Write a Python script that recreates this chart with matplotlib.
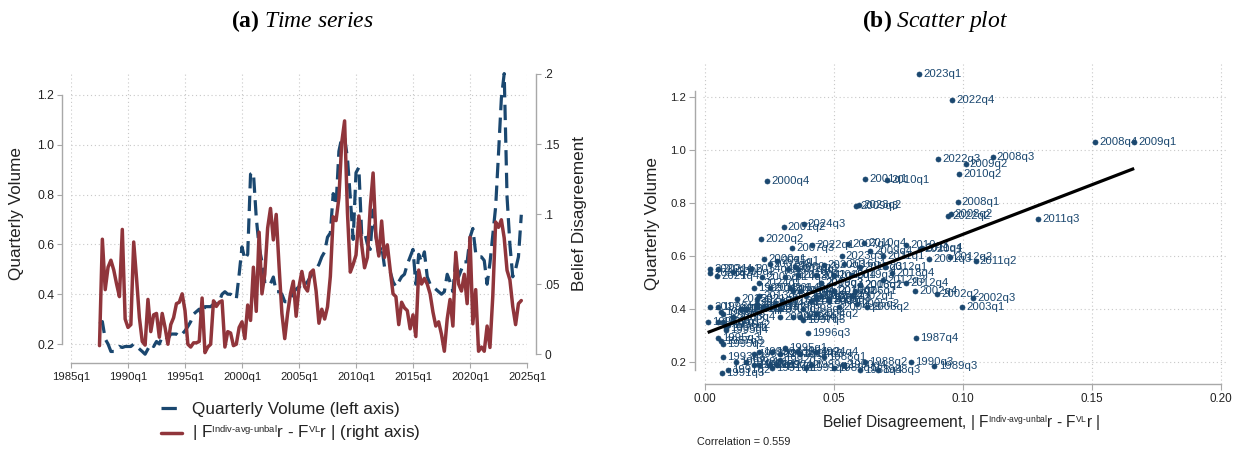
import numpy as np
import matplotlib
matplotlib.use("Agg")
import matplotlib.pyplot as plt

try:
    import matplotlib._mathtext as _mt
    _mt.SHRINK_FACTOR = 0.55
except Exception:
    pass

# ---------------- data ----------------
start_year, start_q = 1987, 3
volume = [
    0.28, 0.29,
    0.22, 0.20, 0.17, 0.17,
    0.18, 0.19, 0.186, 0.19,
    0.19, 0.19, 0.20, 0.19,
    0.18, 0.17, 0.159, 0.18,
    0.20, 0.19, 0.21, 0.20,
    0.23, 0.23, 0.22, 0.24,
    0.24, 0.24, 0.23, 0.24,
    0.253, 0.27, 0.29, 0.32,
    0.33, 0.34, 0.311, 0.35,
    0.35, 0.35, 0.36, 0.37,
    0.37, 0.40, 0.41, 0.40,
    0.40, 0.39, 0.38, 0.48,
    0.59, 0.54, 0.56, 0.882,
    0.889, 0.708, 0.59, 0.53,
    0.45, 0.457, 0.442, 0.469,
    0.41, 0.41, 0.40, 0.37,
    0.37, 0.38, 0.41, 0.42,
    0.43, 0.42, 0.44, 0.45,
    0.47, 0.49, 0.50, 0.52,
    0.55, 0.57, 0.629, 0.646,
    0.804, 0.757, 0.974, 1.029,
    1.028, 0.947, 0.788, 0.62,
    0.888, 0.909, 0.64, 0.65,
    0.60, 0.58, 0.738, 0.632,
    0.56, 0.595, 0.51, 0.50,
    0.49, 0.45, 0.43, 0.45,
    0.47, 0.48, 0.52, 0.55,
    0.58, 0.44, 0.56, 0.53,
    0.57, 0.47, 0.44, 0.43,
    0.42, 0.41, 0.40, 0.41,
    0.48, 0.45, 0.41, 0.538,
    0.47, 0.50, 0.53, 0.53,
    0.628, 0.664, 0.565, 0.55,
    0.55, 0.535, 0.44, 0.525,
    0.640, 0.751, 0.964, 1.186,
    1.286, 0.791, 0.60, 0.47,
    0.50, 0.55, 0.719,
]
disagreement = [
    0.006, 0.082,
    0.046, 0.062, 0.067, 0.060,
    0.050, 0.041, 0.089, 0.025,
    0.019, 0.021, 0.080, 0.054,
    0.026, 0.009, 0.0064, 0.039,
    0.016, 0.028, 0.029, 0.012,
    0.029, 0.019, 0.007, 0.021,
    0.026, 0.036, 0.037, 0.043,
    0.031, 0.007, 0.005, 0.008,
    0.008, 0.009, 0.040, 0.001,
    0.005, 0.007, 0.038, 0.034,
    0.037, 0.038, 0.005, 0.016,
    0.015, 0.006, 0.007, 0.019,
    0.023, 0.011, 0.035, 0.024,
    0.062, 0.0305, 0.087, 0.043,
    0.057, 0.090, 0.104, 0.0815,
    0.0997, 0.063, 0.029, 0.011,
    0.029, 0.043, 0.052, 0.027,
    0.048, 0.059, 0.048, 0.045,
    0.058, 0.060, 0.045, 0.022,
    0.032, 0.025, 0.0337, 0.0555,
    0.098, 0.0953, 0.1116, 0.1512,
    0.1665, 0.1011, 0.0585, 0.064,
    0.0707, 0.0986, 0.078, 0.0616,
    0.069, 0.105, 0.1293, 0.084,
    0.070, 0.095, 0.069, 0.078,
    0.060, 0.043, 0.041, 0.021,
    0.037, 0.033, 0.031, 0.018,
    0.028, 0.0125, 0.060, 0.050,
    0.054, 0.050, 0.043, 0.030,
    0.020, 0.023, 0.014, 0.002,
    0.025, 0.039, 0.020, 0.0726,
    0.050, 0.045, 0.057, 0.036,
    0.0834, 0.0216, 0.046, 0.002,
    0.005, 0.002, 0.020, 0.0047,
    0.0415, 0.0943, 0.0905, 0.0959,
    0.0829, 0.0598, 0.053, 0.034,
    0.021, 0.036, 0.0382,
]
ts_xticks = [1985, 1990, 1995, 2000, 2005, 2010, 2015, 2020, 2025]
ts_xticklabels = [f"{y}q1" for y in ts_xticks]
vol_ticks = [0.2, 0.4, 0.6, 0.8, 1.0, 1.2]
vol_ticklabels = ["0.2", "0.4", "0.6", "0.8", "1.0", "1.2"]
dis_ticks = [0, 0.05, 0.1, 0.15, 0.2]
dis_ticklabels = ["0", ".05", ".1", ".15", ".2"]
sc_xticks = [0.0, 0.05, 0.10, 0.15, 0.20]
sc_xticklabels = ["0.00", "0.05", "0.10", "0.15", "0.20"]
correlation_text = "Correlation = 0.559"

n = len(volume)
years = np.array([start_year + (start_q - 1 + i) // 4 for i in range(n)])
qtrs = np.array([(start_q - 1 + i) % 4 + 1 for i in range(n)])
quarter_labels = [f"{y}q{q}" for y, q in zip(years, qtrs)]
t = years + (qtrs - 1) / 4.0
vol = np.array(volume)
dis = np.array(disagreement)

# ---------------- style ----------------
plt.rcParams["font.family"] = ["Liberation Sans", "DejaVu Sans"]
plt.rcParams["mathtext.fontset"] = "custom"
plt.rcParams["mathtext.rm"] = "Liberation Sans"
plt.rcParams["mathtext.it"] = "Liberation Serif:italic"
plt.rcParams["mathtext.bf"] = "Liberation Serif:bold"

NAVY = "#1a476f"
MAROON = "#90353b"
SPINE = "#a8a8a8"
GRID = "#c8c8c8"
TXT = "#222222"

W, H = 1240, 450
fig = plt.figure(figsize=(12.4, 4.5), dpi=100)
fig.patch.set_facecolor("white")


def box(x0, x1, ytop, ybot):
    return [x0 / W, 1 - ybot / H, (x1 - x0) / W, (ybot - ytop) / H]


# ---------------- (a) time series ----------------
ax = fig.add_axes(box(71, 527, 74, 363))
ax.set_xlim(1985, 2025)
ax.set_ylim(0.1237, 1.2843)
ax2 = ax.twinx()
ax2.set_ylim(-0.0064, 0.2)

for a in (ax, ax2):
    a.set_facecolor("none")
    for s in a.spines.values():
        s.set_visible(False)

ax.spines["left"].set_visible(True)
ax.spines["left"].set_position(("outward", 6.3))
ax.spines["left"].set_bounds(0.2, 1.2)
ax.spines["bottom"].set_visible(True)
ax.spines["bottom"].set_bounds(1985, 2025)
ax2.spines["right"].set_visible(True)
ax2.spines["right"].set_position(("outward", 6.5))
ax2.spines["right"].set_bounds(0, 0.2)
for s in (ax.spines["left"], ax.spines["bottom"], ax2.spines["right"]):
    s.set_color(SPINE)
    s.set_linewidth(1.0)

ax.set_xticks(ts_xticks)
ax.set_xticklabels(ts_xticklabels)
ax.set_yticks(vol_ticks)
ax.set_yticklabels(vol_ticklabels)
ax2.set_yticks(dis_ticks)
ax2.set_yticklabels(dis_ticklabels)
ax.tick_params(axis="x", length=3.6, width=0.8, color=SPINE, labelsize=8.2, pad=3.2, labelcolor=TXT)
ax.tick_params(axis="y", length=3.6, width=0.8, color=SPINE, labelsize=8.8, pad=2.2, labelcolor=TXT)
ax2.tick_params(axis="y", length=3.6, width=0.8, color=SPINE, labelsize=8.6, pad=2.2, labelcolor=TXT)

ax.grid(True, axis="both", color=GRID, linestyle=(0, (1, 2.5)), linewidth=0.8)
ax.set_axisbelow(True)

ax.plot(t, vol, color=NAVY, lw=2.3, dashes=(4.8, 2.3), dash_capstyle="butt",
        clip_on=False, zorder=3, label="Quarterly Volume (left axis)")
ax2.plot(t, dis, color=MAROON, lw=2.5, solid_capstyle="round", solid_joinstyle="round",
         clip_on=False, zorder=4,
         label=r"| F$^{\text{Indiv-avg-unbal}}$r - F$^{\text{VL}}$r | (right axis)")

ax.set_ylabel("Quarterly Volume", fontsize=12.3, color=TXT)
ax.yaxis.set_label_coords(-0.103, 0.517)
ax2.set_ylabel("Belief Disagreement", fontsize=12.3, color=TXT, rotation=90)
ax2.yaxis.set_label_coords(1.099, 0.519)

h1, l1 = ax.get_legend_handles_labels()
h2, l2 = ax2.get_legend_handles_labels()
fig.legend(h1 + h2, l1 + l2, loc="upper left",
           bbox_to_anchor=(161 / W, 1 - 402 / H), frameon=False,
           borderpad=0, borderaxespad=0, handlelength=1.2, handletextpad=0.6,
           labelspacing=0.42, fontsize=12.3, labelcolor=TXT)

fig.text(302 / W, 1 - 21 / H, r"$\mathbf{(a)}\ \mathit{Time\ series}$",
         ha="center", va="center", fontsize=17)

# ---------------- (b) scatter ----------------
axs = fig.add_axes(box(703, 1228, 62, 384))
axs.set_xlim(-0.00081, 0.20291)
axs.set_ylim(0.1183, 1.3307)
for s in axs.spines.values():
    s.set_visible(False)
axs.spines["left"].set_visible(True)
axs.spines["left"].set_position(("outward", 5.8))
axs.spines["left"].set_bounds(0.17, 1.22)
axs.spines["bottom"].set_visible(True)
axs.spines["bottom"].set_bounds(0.0, 0.2)
for s in (axs.spines["left"], axs.spines["bottom"]):
    s.set_color(SPINE)
    s.set_linewidth(1.0)

axs.set_xticks(sc_xticks)
axs.set_xticklabels(sc_xticklabels)
axs.set_yticks(vol_ticks)
axs.set_yticklabels(vol_ticklabels)
axs.tick_params(axis="x", length=4.3, width=0.8, color=SPINE, labelsize=8.4, pad=2.4, labelcolor=TXT)
axs.tick_params(axis="y", length=4.3, width=0.8, color=SPINE, labelsize=8.2, pad=2.2, labelcolor=TXT)
axs.grid(True, axis="both", color=GRID, linestyle=(0, (1, 2.5)), linewidth=0.8)
axs.set_axisbelow(True)

axs.scatter(dis, vol, s=13, color=NAVY, edgecolors=NAVY, linewidths=0.5, zorder=3, clip_on=False)
for lab, xv, yv in zip(quarter_labels, dis, vol):
    axs.annotate(lab, (xv, yv), xytext=(3, 0), textcoords="offset points",
                 ha="left", va="center", fontsize=8.2, color=NAVY, zorder=3,
                 annotation_clip=False)

slope, intercept = np.polyfit(dis, vol, 1)
xf = np.array([dis.min(), dis.max()])
axs.plot(xf, intercept + slope * xf, color="black", lw=2.3, zorder=4, solid_capstyle="butt")

axs.set_ylabel("Quarterly Volume", fontsize=12.3, color=TXT)
axs.yaxis.set_label_coords(-0.082, 0.498)
axs.set_xlabel(r"Belief Disagreement, | F$^{\text{Indiv-avg-unbal}}$r - F$^{\text{VL}}$r |",
               fontsize=11.2, color=TXT)
axs.xaxis.label.set_va("center")
axs.xaxis.set_label_coords(0.4924, -0.125)

fig.text(697 / W, 1 - 442 / H, correlation_text, ha="left", va="center",
         fontsize=7.8, color=TXT)
fig.text(935 / W, 1 - 21 / H, r"$\mathbf{(b)}\ \mathit{Scatter\ plot}$",
         ha="center", va="center", fontsize=17)

fig.savefig("out.png", dpi=100, facecolor="white")
